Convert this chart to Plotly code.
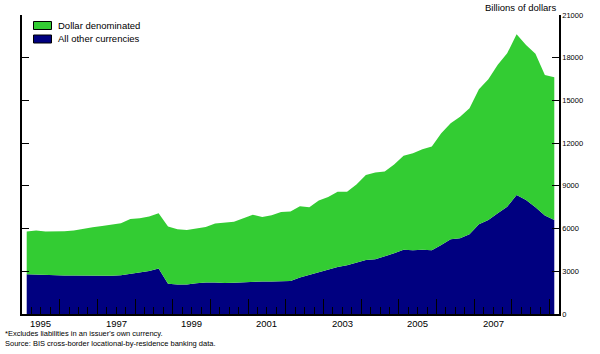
import plotly.graph_objects as go

# ---- data (billions of US dollars), quarterly 1995Q1 .. 2009Q1 ----
quarters = [f"{y}Q{q}" for y in range(1995, 2010) for q in range(1, 5)][:57]

other_currencies = [
    2790, 2760, 2730, 2710, 2700, 2700, 2700, 2680, 2660, 2680, 2720, 2820,
    2900, 3020, 3190, 2120, 2080, 2070, 2160, 2220, 2210, 2170, 2200, 2240,
    2270, 2280, 2290, 2330, 2320, 2560, 2740, 2900, 3110, 3300, 3420, 3620,
    3800, 3850, 4030, 4260, 4510, 4470, 4520, 4470, 4850, 5250, 5320, 5600,
    6300, 6600, 7070, 7540, 8360, 8010, 7490, 6910, 6600,
]

dollar_denominated = [
    3000, 3110, 3070, 3090, 3110, 3160, 3290, 3410, 3520, 3600, 3660, 3860,
    3820, 3820, 3890, 4020, 3880, 3830, 3860, 3890, 4140, 4220, 4280, 4480,
    4700, 4540, 4650, 4830, 4880, 5010, 4750, 5080, 5100, 5290, 5160, 5480,
    5970, 6080, 5980, 6240, 6600, 6820, 7050, 7290, 7840, 8150, 8540, 8850,
    9490, 9890, 10430, 10770, 11290, 10890, 10780, 9880, 10030,
]

year_labels = ["1995", "1997", "1999", "2001", "2003", "2005", "2007"]
y_ticks = [0, 3000, 6000, 9000, 12000, 15000, 18000, 21000]

series_names = ["All other currencies", "Dollar denominated"]
GREEN = "#33CC33"
NAVY = "#000080"
FONT = "Liberation Sans, Arial, sans-serif"

# quarter label -> mid-quarter position in years
xpos = [int(q[:4]) + (int(q[-1]) - 0.5) / 4 for q in quarters]

fig = go.Figure()
fig.add_trace(go.Scatter(
    x=xpos, y=other_currencies, name=series_names[0], mode="lines",
    stackgroup="one", line=dict(width=0, color=NAVY), fillcolor=NAVY,
    showlegend=False,
))
fig.add_trace(go.Scatter(
    x=xpos, y=dollar_denominated, name=series_names[1], mode="lines",
    stackgroup="one", line=dict(width=0, color=GREEN), fillcolor=GREEN,
    showlegend=False,
))

annotations = []
for lab in year_labels:
    annotations.append(dict(
        x=int(lab) + 0.5, xref="x", y=-0.008, yref="paper",
        text=lab, showarrow=False, xanchor="center", yanchor="top",
        font=dict(size=9.5, family=FONT, color="black"),
    ))

# top-right unit label
annotations.append(dict(
    x=1.0, xref="paper", y=1.024, yref="paper", text="Billions of dollars",
    showarrow=False, xanchor="right", yanchor="middle",
    font=dict(size=9.5, family=FONT, color="black"),
))

# footnotes
annotations.append(dict(
    x=-0.036, xref="paper", y=-0.064, yref="paper",
    text="*Excludes liabilities in an issuer's own currency.",
    showarrow=False, xanchor="left", yanchor="middle",
    font=dict(size=7.5, family=FONT, color="black"),
))
annotations.append(dict(
    x=-0.036, xref="paper", y=-0.098, yref="paper",
    text="Source: BIS cross-border locational-by-residence banking data.",
    showarrow=False, xanchor="left", yanchor="middle",
    font=dict(size=7.5, family=FONT, color="black"),
))

# manual legend (swatches + text)
shapes = []
legend_rows = [(series_names[1], GREEN, 25.5), (series_names[0], NAVY, 39.0)]
plot_left, plot_top, plot_w, plot_h = 22, 15, 537, 299
for name, col, yc in legend_rows:
    x0 = (33.5 - plot_left) / plot_w
    x1 = (51.5 - plot_left) / plot_w
    y0 = (plot_top + plot_h - (yc + 4)) / plot_h
    y1 = (plot_top + plot_h - (yc - 4)) / plot_h
    shapes.append(dict(type="rect", xref="paper", yref="paper",
                       x0=x0, x1=x1, y0=y0, y1=y1, fillcolor=col,
                       line=dict(color="black", width=1)))
    annotations.append(dict(
        x=(56 - plot_left) / plot_w, xref="paper",
        y=(plot_top + plot_h - yc) / plot_h, yref="paper",
        text=name, showarrow=False, xanchor="left", yanchor="middle",
        font=dict(size=9.5, family=FONT, color="black"),
    ))

fig.update_layout(
    width=600, height=354,
    margin=dict(l=22, r=41, t=15, b=40, pad=0),
    paper_bgcolor="white", plot_bgcolor="white",
    font=dict(family=FONT, color="black"),
    showlegend=False,
    xaxis=dict(
        range=[1995, 2009.25], tickmode="array",
        tickvals=list(range(1995, 2010)), showticklabels=False,
        ticks="inside", ticklen=15, tickwidth=1, tickcolor="black",
        showline=True, linecolor="black", linewidth=2,
        showgrid=False, zeroline=False, mirror=False,
        minor=dict(tickmode="linear", tick0=1995, dtick=0.25,
                   ticks="inside", ticklen=7, tickwidth=1,
                   tickcolor="black", showgrid=False),
    ),
    yaxis=dict(
        range=[0, 21000], side="right", tickmode="array",
        tickvals=y_ticks, ticktext=[str(v) for v in y_ticks],
        ticks="inside", ticklen=7, tickwidth=1, tickcolor="black",
        showline=True, linecolor="black", linewidth=1.5, mirror="ticks",
        showgrid=False, zeroline=False,
        tickfont=dict(size=7.5, family=FONT, color="black"),
    ),
    annotations=annotations,
    shapes=shapes,
)

fig.write_html("out.html")
